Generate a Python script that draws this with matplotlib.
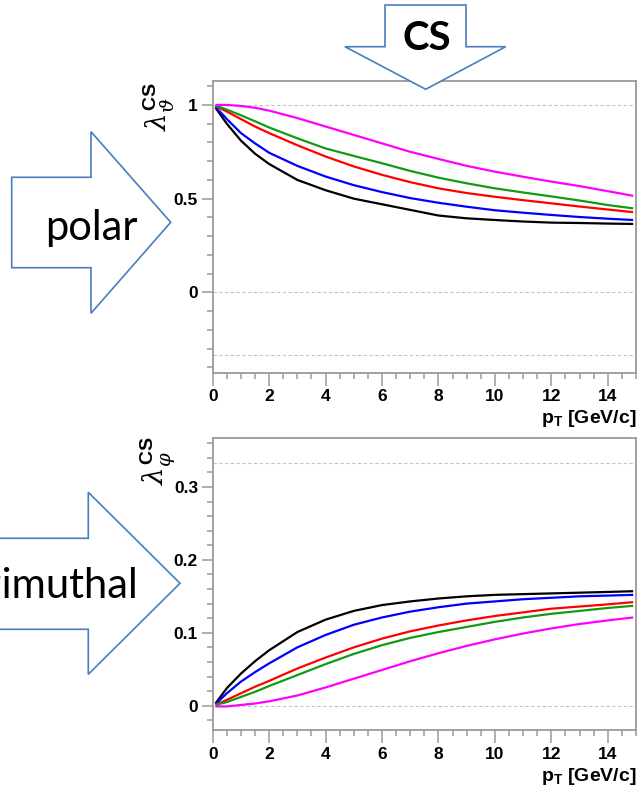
import numpy as np
import matplotlib
matplotlib.use("Agg")
import matplotlib.pyplot as plt
from matplotlib.patches import Polygon
from matplotlib.ticker import MultipleLocator, FixedLocator, FuncFormatter

plt.rcParams["font.family"] = ["Liberation Sans", "DejaVu Sans"]
plt.rcParams["mathtext.fontset"] = "custom"
plt.rcParams["mathtext.rm"] = "DejaVu Serif"
plt.rcParams["mathtext.it"] = "DejaVu Serif:italic"
plt.rcParams["mathtext.bf"] = "Liberation Sans:bold"

# transverse momentum sampling points [GeV/c]
pt = [0.1, 0.5, 1, 1.5, 2, 3, 4, 5, 6, 7, 8, 9, 10, 11, 12, 13, 14, 14.9]

series_colors = ["black", "blue", "red", "#129a12", "magenta"]

# polar anisotropy lambda_theta in the Collins-Soper frame
lth_black = [0.985, 0.90, 0.81, 0.74, 0.685, 0.60, 0.545, 0.50, 0.47, 0.44, 0.41, 0.395, 0.386, 0.378, 0.372, 0.370, 0.367, 0.365]
lth_blue = [0.99, 0.925, 0.85, 0.795, 0.745, 0.675, 0.618, 0.572, 0.535, 0.503, 0.478, 0.457, 0.438, 0.425, 0.413, 0.402, 0.393, 0.386]
lth_red = [0.995, 0.965, 0.925, 0.885, 0.85, 0.785, 0.725, 0.672, 0.627, 0.588, 0.555, 0.53, 0.51, 0.492, 0.475, 0.458, 0.442, 0.428]
lth_green = [0.997, 0.975, 0.945, 0.913, 0.88, 0.822, 0.768, 0.728, 0.689, 0.648, 0.612, 0.582, 0.555, 0.533, 0.512, 0.49, 0.466, 0.448]
lth_magenta = [1.0, 1.0, 0.995, 0.985, 0.97, 0.93, 0.885, 0.84, 0.795, 0.75, 0.712, 0.675, 0.644, 0.617, 0.591, 0.567, 0.54, 0.515]

# azimuthal anisotropy lambda_phi in the Collins-Soper frame
lph_black = [0.003, 0.024, 0.044, 0.061, 0.076, 0.101, 0.118, 0.130, 0.138, 0.143, 0.147, 0.150, 0.152, 0.153, 0.154, 0.155, 0.156, 0.157]
lph_blue = [0.002, 0.017, 0.033, 0.046, 0.058, 0.080, 0.097, 0.111, 0.121, 0.129, 0.135, 0.140, 0.143, 0.146, 0.148, 0.150, 0.151, 0.152]
lph_red = [0.001, 0.008, 0.017, 0.026, 0.034, 0.051, 0.066, 0.080, 0.092, 0.102, 0.110, 0.117, 0.123, 0.128, 0.133, 0.136, 0.139, 0.142]
lph_green = [0.001, 0.005, 0.012, 0.019, 0.027, 0.042, 0.057, 0.071, 0.083, 0.093, 0.101, 0.108, 0.115, 0.121, 0.126, 0.130, 0.134, 0.137]
lph_magenta = [-0.001, -0.001, 0.001, 0.003, 0.006, 0.014, 0.025, 0.037, 0.049, 0.061, 0.072, 0.082, 0.091, 0.099, 0.106, 0.112, 0.117, 0.121]

lth_curves = [lth_black, lth_blue, lth_red, lth_green, lth_magenta]
lph_curves = [lph_black, lph_blue, lph_red, lph_green, lph_magenta]

W, H = 638, 794
fig = plt.figure(figsize=(W / 100, H / 100), dpi=100)

frame_col = "#9a9a9a"
grid_col = "#c4c4c4"


def fx(px):
    return px / W


def fy(py):
    return 1 - py / H


def style_axes(ax, ylim, major_y, minor_y, ref_lines):
    ax.set_xlim(0, 15)
    ax.set_ylim(*ylim)
    for s in ax.spines.values():
        s.set_color(frame_col)
        s.set_linewidth(1.3)
    ax.xaxis.set_major_locator(MultipleLocator(2))
    ax.xaxis.set_minor_locator(MultipleLocator(0.5))
    ax.yaxis.set_major_locator(FixedLocator(major_y))
    ax.yaxis.set_minor_locator(MultipleLocator(minor_y))
    ax.yaxis.set_major_formatter(FuncFormatter(lambda v, p: "%g" % round(v, 3)))
    ax.tick_params(which="both", direction="out", color=frame_col, width=1.1,
                   top=False, right=False)
    ax.tick_params(which="major", length=8, labelsize=12.5, pad=2.5)
    ax.tick_params(which="minor", length=4.3)
    ax.tick_params(axis="x", which="major", length=9, pad=3)
    for lab in ax.get_xticklabels() + ax.get_yticklabels():
        lab.set_fontweight("bold")
    for r in ref_lines:
        ax.axhline(r, color=grid_col, lw=0.8, dashes=(3, 2.2), zorder=1)
    ax.text(1.0, -0.158, r"p$_{\mathbf{T}}$ [GeV/c]", transform=ax.transAxes,
            ha="right", va="center", fontsize=14, fontweight="bold")


ax1 = fig.add_axes([fx(212.7), fy(372.7), fx(636) - fx(212.7), fy(81) - fy(372.7)])
ax2 = fig.add_axes([fx(212.7), fy(730), fx(636) - fx(212.7), fy(438.3) - fy(730)])

style_axes(ax1, (-0.429, 1.128), [0, 0.5, 1], 0.1, [1, 0, -1 / 3])
style_axes(ax2, (-1 / 30, 0.3667), [0, 0.1, 0.2, 0.3], 0.02, [0, 1 / 3])

for vals, col in zip(lth_curves, series_colors):
    ax1.plot(pt, vals, color=col, lw=1.6, zorder=3, solid_capstyle="butt")
for vals, col in zip(lph_curves, series_colors):
    ax2.plot(pt, vals, color=col, lw=1.6, zorder=3, solid_capstyle="butt")

# axis titles
fig.text(fx(159), fy(82), r"$\lambda_{\vartheta}^{\mathbf{CS}}$", rotation=90,
         ha="center", va="top", fontsize=20)
fig.text(fx(158), fy(436), r"$\lambda_{\varphi}^{\mathbf{CS}}$", rotation=90,
         ha="center", va="top", fontsize=20)

# block arrows
arrow_col = "#4a7ebb"


def block_arrow(pts):
    poly = Polygon([(fx(x), fy(y)) for x, y in pts], closed=True,
                   transform=fig.transFigure, facecolor="white",
                   edgecolor=arrow_col, lw=1.2, zorder=10)
    fig.add_artist(poly)


block_arrow([(385, 5), (466, 5), (466, 46.7), (505.7, 46.7), (425.7, 89.3),
             (345, 46.7), (385, 46.7)])
block_arrow([(11.7, 177.3), (91, 177.3), (91, 131.7), (170.7, 222.3),
             (91, 313.3), (91, 267.7), (11.7, 267.7)])
block_arrow([(-80, 538.3), (88.3, 538.3), (88.3, 492.3), (180, 583.3),
             (88.3, 674.3), (88.3, 629.3), (-80, 629.3)])

fig.text(fx(427), fy(39), "CS", ha="center", va="center", fontsize=29,
         fontweight="bold", family=["Lato", "DejaVu Sans"], zorder=11)
fig.text(fx(91.5), fy(240), "polar", ha="center", va="baseline", fontsize=30,
         family=["Lato", "DejaVu Sans"], zorder=11)
fig.text(fx(138), fy(598), "azimuthal", ha="right", va="baseline", fontsize=30,
         family=["Lato", "DejaVu Sans"], zorder=11)

fig.savefig("out.png", dpi=100)
